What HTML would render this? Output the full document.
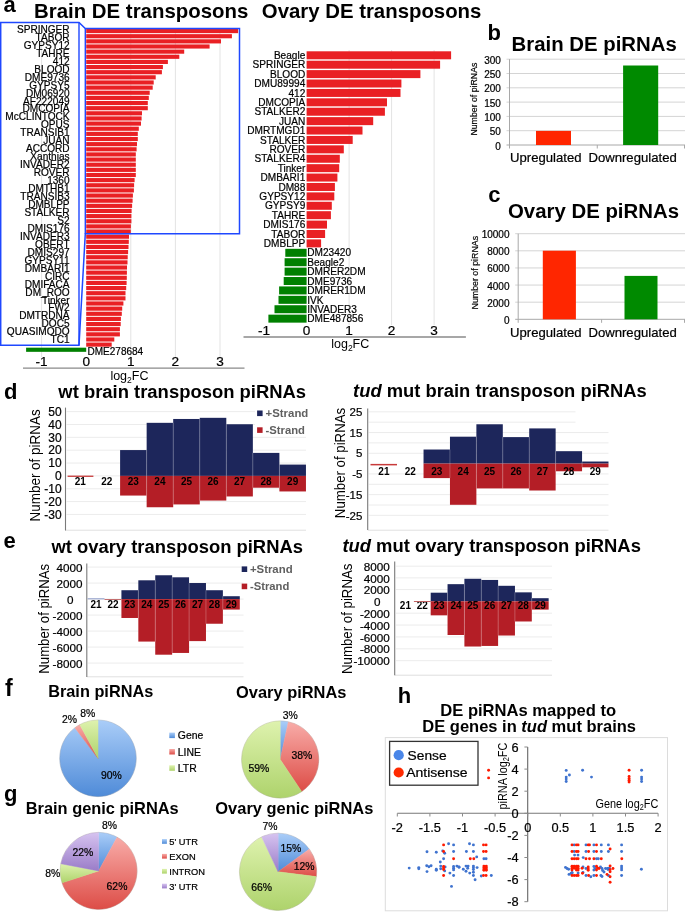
<!DOCTYPE html>
<html><head><meta charset="utf-8"><style>
html,body{margin:0;padding:0;background:#fff;}
svg{display:block;font-family:"Liberation Sans",sans-serif;filter:blur(0.3px);}
</style></head><body>
<svg width="685" height="912" viewBox="0 0 685 912" font-family="Liberation Sans, sans-serif">
<defs>
<linearGradient id="gB" x1="0" y1="0" x2="0" y2="1"><stop offset="0" stop-color="#aacdf8"/><stop offset="1" stop-color="#4f8bd8"/></linearGradient>
<linearGradient id="gR" x1="0" y1="0" x2="0" y2="1"><stop offset="0" stop-color="#f8aca8"/><stop offset="1" stop-color="#dd4d47"/></linearGradient>
<linearGradient id="gG" x1="0" y1="0" x2="0" y2="1"><stop offset="0" stop-color="#def2ae"/><stop offset="1" stop-color="#aed36c"/></linearGradient>
<linearGradient id="gP" x1="0" y1="0" x2="0" y2="1"><stop offset="0" stop-color="#d6c3f0"/><stop offset="1" stop-color="#9a7cc8"/></linearGradient>
</defs>
<text x="3.50" y="12.10" font-size="22" font-weight="bold" >a</text>
<text x="34.00" y="17.80" font-size="20.8" font-weight="bold" textLength="214.30" lengthAdjust="spacingAndGlyphs" >Brain DE transposons</text>
<text x="261.80" y="17.80" font-size="20.8" font-weight="bold" textLength="219.60" lengthAdjust="spacingAndGlyphs" >Ovary DE transposons</text>
<line x1="41.60" y1="28.00" x2="41.60" y2="357.00" stroke="#e3e3e3" stroke-width="1" />
<line x1="130.80" y1="28.00" x2="130.80" y2="357.00" stroke="#e3e3e3" stroke-width="1" />
<line x1="175.40" y1="28.00" x2="175.40" y2="357.00" stroke="#e3e3e3" stroke-width="1" />
<line x1="220.00" y1="28.00" x2="220.00" y2="357.00" stroke="#e3e3e3" stroke-width="1" />
<rect x="86.20" y="29.00" width="151.90" height="4.15" fill="#e92024" />
<rect x="86.20" y="34.14" width="145.70" height="4.15" fill="#e92024" />
<rect x="86.20" y="39.28" width="134.80" height="4.15" fill="#e92024" />
<rect x="86.20" y="44.42" width="123.40" height="4.15" fill="#e92024" />
<rect x="86.20" y="49.56" width="98.00" height="4.15" fill="#e92024" />
<rect x="86.20" y="54.70" width="93.10" height="4.15" fill="#e92024" />
<rect x="86.20" y="59.84" width="81.70" height="4.15" fill="#e92024" />
<rect x="86.20" y="64.98" width="76.70" height="4.15" fill="#e92024" />
<rect x="86.20" y="70.12" width="75.70" height="4.15" fill="#e92024" />
<rect x="86.20" y="75.26" width="69.50" height="4.15" fill="#e92024" />
<rect x="86.20" y="80.40" width="67.50" height="4.15" fill="#e92024" />
<rect x="86.20" y="85.54" width="66.50" height="4.15" fill="#e92024" />
<rect x="86.20" y="90.68" width="63.50" height="4.15" fill="#e92024" />
<rect x="86.20" y="95.82" width="62.60" height="4.15" fill="#e92024" />
<rect x="86.20" y="100.96" width="61.60" height="4.15" fill="#e92024" />
<rect x="86.20" y="106.10" width="61.60" height="4.15" fill="#e92024" />
<rect x="86.20" y="111.24" width="55.80" height="4.15" fill="#e92024" />
<rect x="86.20" y="116.38" width="55.40" height="4.15" fill="#e92024" />
<rect x="86.20" y="121.52" width="54.80" height="4.15" fill="#e92024" />
<rect x="86.20" y="126.66" width="52.60" height="4.15" fill="#e92024" />
<rect x="86.20" y="131.80" width="51.60" height="4.15" fill="#e92024" />
<rect x="86.20" y="136.94" width="51.60" height="4.15" fill="#e92024" />
<rect x="86.20" y="142.08" width="50.80" height="4.15" fill="#e92024" />
<rect x="86.20" y="147.22" width="50.40" height="4.15" fill="#e92024" />
<rect x="86.20" y="152.36" width="49.60" height="4.15" fill="#e92024" />
<rect x="86.20" y="157.50" width="49.60" height="4.15" fill="#e92024" />
<rect x="86.20" y="162.64" width="49.60" height="4.15" fill="#e92024" />
<rect x="86.20" y="167.78" width="49.60" height="4.15" fill="#e92024" />
<rect x="86.20" y="172.92" width="49.60" height="4.15" fill="#e92024" />
<rect x="86.20" y="178.06" width="48.40" height="4.15" fill="#e92024" />
<rect x="86.20" y="183.20" width="47.90" height="4.15" fill="#e92024" />
<rect x="86.20" y="188.34" width="47.70" height="4.15" fill="#e92024" />
<rect x="86.20" y="193.48" width="46.70" height="4.15" fill="#e92024" />
<rect x="86.20" y="198.62" width="46.40" height="4.15" fill="#e92024" />
<rect x="86.20" y="203.76" width="45.90" height="4.15" fill="#e92024" />
<rect x="86.20" y="208.90" width="45.40" height="4.15" fill="#e92024" />
<rect x="86.20" y="214.04" width="45.20" height="4.15" fill="#e92024" />
<rect x="86.20" y="219.18" width="45.20" height="4.15" fill="#e92024" />
<rect x="86.20" y="224.32" width="44.70" height="4.15" fill="#e92024" />
<rect x="86.20" y="229.46" width="44.60" height="4.15" fill="#e92024" />
<rect x="86.20" y="234.60" width="42.80" height="4.15" fill="#e92024" />
<rect x="86.20" y="239.74" width="42.60" height="4.15" fill="#e92024" />
<rect x="86.20" y="244.88" width="42.30" height="4.15" fill="#e92024" />
<rect x="86.20" y="250.02" width="41.90" height="4.15" fill="#e92024" />
<rect x="86.20" y="255.16" width="41.50" height="4.15" fill="#e92024" />
<rect x="86.20" y="260.30" width="41.30" height="4.15" fill="#e92024" />
<rect x="86.20" y="265.44" width="40.80" height="4.15" fill="#e92024" />
<rect x="86.20" y="270.58" width="40.70" height="4.15" fill="#e92024" />
<rect x="86.20" y="275.72" width="40.60" height="4.15" fill="#e92024" />
<rect x="86.20" y="280.86" width="40.40" height="4.15" fill="#e92024" />
<rect x="86.20" y="286.00" width="40.00" height="4.15" fill="#e92024" />
<rect x="86.20" y="291.14" width="39.30" height="4.15" fill="#e92024" />
<rect x="86.20" y="296.28" width="39.30" height="4.15" fill="#e92024" />
<rect x="86.20" y="301.42" width="37.20" height="4.15" fill="#e92024" />
<rect x="86.20" y="306.56" width="36.00" height="4.15" fill="#e92024" />
<rect x="86.20" y="311.70" width="35.60" height="4.15" fill="#e92024" />
<rect x="86.20" y="316.84" width="34.70" height="4.15" fill="#e92024" />
<rect x="86.20" y="321.98" width="34.50" height="4.15" fill="#e92024" />
<rect x="86.20" y="327.12" width="33.70" height="4.15" fill="#e92024" />
<rect x="86.20" y="332.26" width="33.70" height="4.15" fill="#e92024" />
<rect x="86.20" y="337.40" width="28.10" height="4.15" fill="#e92024" />
<rect x="86.20" y="342.54" width="25.50" height="4.15" fill="#e92024" />
<rect x="26.10" y="347.68" width="60.10" height="4.15" fill="#008000" />
<text x="87.50" y="354.70" font-size="10.6" textLength="55.70" lengthAdjust="spacingAndGlyphs" stroke="#000" stroke-width="0.22" >DME278684</text>
<line x1="23.00" y1="368.20" x2="244.50" y2="368.20" stroke="#8a8a8a" stroke-width="1.3" />
<text x="41.60" y="366.00" font-size="13.6" text-anchor="middle" stroke="#000" stroke-width="0.22" >-1</text>
<text x="86.20" y="366.00" font-size="13.6" text-anchor="middle" stroke="#000" stroke-width="0.22" >0</text>
<text x="130.80" y="366.00" font-size="13.6" text-anchor="middle" stroke="#000" stroke-width="0.22" >1</text>
<text x="175.40" y="366.00" font-size="13.6" text-anchor="middle" stroke="#000" stroke-width="0.22" >2</text>
<text x="220.00" y="366.00" font-size="13.6" text-anchor="middle" stroke="#000" stroke-width="0.22" >3</text>
<text x="110.4" y="380.3" font-size="12.5">log<tspan font-size="8.5" dy="2.5">2</tspan><tspan dy="-2.5">FC</tspan></text>
<g transform="translate(69.6,0) scale(0.935,1) translate(-69.6,0)">
<text x="69.60" y="32.90" font-size="10.8" text-anchor="end" stroke="#000" stroke-width="0.22" >SPRINGER</text>
<text x="69.60" y="40.86" font-size="10.8" text-anchor="end" stroke="#000" stroke-width="0.22" >TABOR</text>
<text x="69.60" y="48.82" font-size="10.8" text-anchor="end" stroke="#000" stroke-width="0.22" >GYPSY12</text>
<text x="69.60" y="56.78" font-size="10.8" text-anchor="end" stroke="#000" stroke-width="0.22" >TAHRE</text>
<text x="69.60" y="64.74" font-size="10.8" text-anchor="end" stroke="#000" stroke-width="0.22" >412</text>
<text x="69.60" y="72.70" font-size="10.8" text-anchor="end" stroke="#000" stroke-width="0.22" >BLOOD</text>
<text x="69.60" y="80.66" font-size="10.8" text-anchor="end" stroke="#000" stroke-width="0.22" >DME9736</text>
<text x="69.60" y="88.62" font-size="10.8" text-anchor="end" stroke="#000" stroke-width="0.22" >GYPSY5</text>
<text x="69.60" y="96.58" font-size="10.8" text-anchor="end" stroke="#000" stroke-width="0.22" >DM06920</text>
<text x="69.60" y="104.54" font-size="10.8" text-anchor="end" stroke="#000" stroke-width="0.22" >AF222049</text>
<text x="69.60" y="112.50" font-size="10.8" text-anchor="end" stroke="#000" stroke-width="0.22" >DMCOPIA</text>
<text x="69.60" y="120.46" font-size="10.8" text-anchor="end" stroke="#000" stroke-width="0.22" >McCLINTOCK</text>
<text x="69.60" y="128.42" font-size="10.8" text-anchor="end" stroke="#000" stroke-width="0.22" >OPUS</text>
<text x="69.60" y="136.38" font-size="10.8" text-anchor="end" stroke="#000" stroke-width="0.22" >TRANSIB1</text>
<text x="69.60" y="144.34" font-size="10.8" text-anchor="end" stroke="#000" stroke-width="0.22" >JUAN</text>
<text x="69.60" y="152.30" font-size="10.8" text-anchor="end" stroke="#000" stroke-width="0.22" >ACCORD</text>
<text x="69.60" y="160.26" font-size="10.8" text-anchor="end" stroke="#000" stroke-width="0.22" >Xanthias</text>
<text x="69.60" y="168.22" font-size="10.8" text-anchor="end" stroke="#000" stroke-width="0.22" >INVADER2</text>
<text x="69.60" y="176.18" font-size="10.8" text-anchor="end" stroke="#000" stroke-width="0.22" >ROVER</text>
<text x="69.60" y="184.14" font-size="10.8" text-anchor="end" stroke="#000" stroke-width="0.22" >1360</text>
<text x="69.60" y="192.10" font-size="10.8" text-anchor="end" stroke="#000" stroke-width="0.22" >DMTHB1</text>
<text x="69.60" y="200.06" font-size="10.8" text-anchor="end" stroke="#000" stroke-width="0.22" >TRANSIB3</text>
<text x="69.60" y="208.02" font-size="10.8" text-anchor="end" stroke="#000" stroke-width="0.22" >DMBLPP</text>
<text x="69.60" y="215.98" font-size="10.8" text-anchor="end" stroke="#000" stroke-width="0.22" >STALKER</text>
<text x="69.60" y="223.94" font-size="10.8" text-anchor="end" stroke="#000" stroke-width="0.22" >S2</text>
<text x="69.60" y="231.90" font-size="10.8" text-anchor="end" stroke="#000" stroke-width="0.22" >DMIS176</text>
<text x="69.60" y="239.86" font-size="10.8" text-anchor="end" stroke="#000" stroke-width="0.22" >INVADER3</text>
<text x="69.60" y="247.82" font-size="10.8" text-anchor="end" stroke="#000" stroke-width="0.22" >QBERT</text>
<text x="69.60" y="255.78" font-size="10.8" text-anchor="end" stroke="#000" stroke-width="0.22" >DMIS297</text>
<text x="69.60" y="263.74" font-size="10.8" text-anchor="end" stroke="#000" stroke-width="0.22" >GYPSY11</text>
<text x="69.60" y="271.70" font-size="10.8" text-anchor="end" stroke="#000" stroke-width="0.22" >DMBARI1</text>
<text x="69.60" y="279.66" font-size="10.8" text-anchor="end" stroke="#000" stroke-width="0.22" >CIRC</text>
<text x="69.60" y="287.62" font-size="10.8" text-anchor="end" stroke="#000" stroke-width="0.22" >DMIFACA</text>
<text x="69.60" y="295.58" font-size="10.8" text-anchor="end" stroke="#000" stroke-width="0.22" >DM_ROO</text>
<text x="69.60" y="303.54" font-size="10.8" text-anchor="end" stroke="#000" stroke-width="0.22" >Tinker</text>
<text x="69.60" y="311.50" font-size="10.8" text-anchor="end" stroke="#000" stroke-width="0.22" >FW2</text>
<text x="69.60" y="319.46" font-size="10.8" text-anchor="end" stroke="#000" stroke-width="0.22" >DMTRDNA</text>
<text x="69.60" y="327.42" font-size="10.8" text-anchor="end" stroke="#000" stroke-width="0.22" >DOC5</text>
<text x="69.60" y="335.38" font-size="10.8" text-anchor="end" stroke="#000" stroke-width="0.22" >QUASIMODO</text>
<text x="69.60" y="343.34" font-size="10.8" text-anchor="end" stroke="#000" stroke-width="0.22" >TC1</text>
</g>
<path d="M0.7,345.2 L0.7,22.4 L79,22.4 L85.3,28.6 L239.5,28.6 L239.5,233.8 L85.3,233.8 L79,345.2 Z" fill="none" stroke="#1f48ff" stroke-width="1.5"/>
<line x1="79.00" y1="22.40" x2="79.00" y2="345.20" stroke="#1f48ff" stroke-width="1.4" />
<line x1="85.30" y1="28.60" x2="85.30" y2="233.80" stroke="#1f48ff" stroke-width="1.4" />
<line x1="349.10" y1="50.00" x2="349.10" y2="325.00" stroke="#e3e3e3" stroke-width="1" />
<line x1="391.60" y1="50.00" x2="391.60" y2="325.00" stroke="#e3e3e3" stroke-width="1" />
<line x1="434.10" y1="50.00" x2="434.10" y2="325.00" stroke="#e3e3e3" stroke-width="1" />
<rect x="306.60" y="51.30" width="144.50" height="8.00" fill="#e92024" />
<rect x="306.60" y="60.70" width="133.50" height="8.00" fill="#e92024" />
<rect x="306.60" y="70.11" width="113.80" height="8.00" fill="#e92024" />
<rect x="306.60" y="79.51" width="94.80" height="8.00" fill="#e92024" />
<rect x="306.60" y="88.92" width="93.90" height="8.00" fill="#e92024" />
<rect x="306.60" y="98.32" width="80.40" height="8.00" fill="#e92024" />
<rect x="306.60" y="107.73" width="78.30" height="8.00" fill="#e92024" />
<rect x="306.60" y="117.13" width="66.60" height="8.00" fill="#e92024" />
<rect x="306.60" y="126.54" width="55.90" height="8.00" fill="#e92024" />
<rect x="306.60" y="135.94" width="46.10" height="8.00" fill="#e92024" />
<rect x="306.60" y="145.35" width="37.20" height="8.00" fill="#e92024" />
<rect x="306.60" y="154.75" width="33.20" height="8.00" fill="#e92024" />
<rect x="306.60" y="164.16" width="32.60" height="8.00" fill="#e92024" />
<rect x="306.60" y="173.56" width="30.80" height="8.00" fill="#e92024" />
<rect x="306.60" y="182.97" width="28.30" height="8.00" fill="#e92024" />
<rect x="306.60" y="192.38" width="27.70" height="8.00" fill="#e92024" />
<rect x="306.60" y="201.78" width="25.20" height="8.00" fill="#e92024" />
<rect x="306.60" y="211.19" width="24.30" height="8.00" fill="#e92024" />
<rect x="306.60" y="220.59" width="20.40" height="8.00" fill="#e92024" />
<rect x="306.60" y="230.00" width="18.50" height="8.00" fill="#e92024" />
<rect x="306.60" y="239.40" width="14.50" height="8.00" fill="#e92024" />
<rect x="285.30" y="248.81" width="21.30" height="8.00" fill="#008000" />
<rect x="284.60" y="258.21" width="22.00" height="8.00" fill="#008000" />
<rect x="284.60" y="267.62" width="22.00" height="8.00" fill="#008000" />
<rect x="283.70" y="277.02" width="22.90" height="8.00" fill="#008000" />
<rect x="279.10" y="286.42" width="27.50" height="8.00" fill="#008000" />
<rect x="278.50" y="295.83" width="28.10" height="8.00" fill="#008000" />
<rect x="274.50" y="305.23" width="32.10" height="8.00" fill="#008000" />
<rect x="268.40" y="314.64" width="38.20" height="8.00" fill="#008000" />
<g transform="translate(305.3,0) scale(0.935,1) translate(-305.3,0)">
<text x="305.30" y="59.00" font-size="10.8" text-anchor="end" stroke="#000" stroke-width="0.22" >Beagle</text>
<text x="305.30" y="68.41" font-size="10.8" text-anchor="end" stroke="#000" stroke-width="0.22" >SPRINGER</text>
<text x="305.30" y="77.81" font-size="10.8" text-anchor="end" stroke="#000" stroke-width="0.22" >BLOOD</text>
<text x="305.30" y="87.21" font-size="10.8" text-anchor="end" stroke="#000" stroke-width="0.22" >DMU89994</text>
<text x="305.30" y="96.62" font-size="10.8" text-anchor="end" stroke="#000" stroke-width="0.22" >412</text>
<text x="305.30" y="106.02" font-size="10.8" text-anchor="end" stroke="#000" stroke-width="0.22" >DMCOPIA</text>
<text x="305.30" y="115.43" font-size="10.8" text-anchor="end" stroke="#000" stroke-width="0.22" >STALKER2</text>
<text x="305.30" y="124.83" font-size="10.8" text-anchor="end" stroke="#000" stroke-width="0.22" >JUAN</text>
<text x="305.30" y="134.24" font-size="10.8" text-anchor="end" stroke="#000" stroke-width="0.22" >DMRTMGD1</text>
<text x="305.30" y="143.64" font-size="10.8" text-anchor="end" stroke="#000" stroke-width="0.22" >STALKER</text>
<text x="305.30" y="153.05" font-size="10.8" text-anchor="end" stroke="#000" stroke-width="0.22" >ROVER</text>
<text x="305.30" y="162.45" font-size="10.8" text-anchor="end" stroke="#000" stroke-width="0.22" >STALKER4</text>
<text x="305.30" y="171.86" font-size="10.8" text-anchor="end" stroke="#000" stroke-width="0.22" >Tinker</text>
<text x="305.30" y="181.26" font-size="10.8" text-anchor="end" stroke="#000" stroke-width="0.22" >DMBARI1</text>
<text x="305.30" y="190.67" font-size="10.8" text-anchor="end" stroke="#000" stroke-width="0.22" >DM88</text>
<text x="305.30" y="200.07" font-size="10.8" text-anchor="end" stroke="#000" stroke-width="0.22" >GYPSY12</text>
<text x="305.30" y="209.48" font-size="10.8" text-anchor="end" stroke="#000" stroke-width="0.22" >GYPSY9</text>
<text x="305.30" y="218.88" font-size="10.8" text-anchor="end" stroke="#000" stroke-width="0.22" >TAHRE</text>
<text x="305.30" y="228.29" font-size="10.8" text-anchor="end" stroke="#000" stroke-width="0.22" >DMIS176</text>
<text x="305.30" y="237.69" font-size="10.8" text-anchor="end" stroke="#000" stroke-width="0.22" >TABOR</text>
<text x="305.30" y="247.10" font-size="10.8" text-anchor="end" stroke="#000" stroke-width="0.22" >DMBLPP</text>
</g>
<g transform="translate(307.3,0) scale(0.935,1) translate(-307.3,0)">
<text x="307.30" y="256.50" font-size="10.8" stroke="#000" stroke-width="0.22" >DM23420</text>
<text x="307.30" y="265.91" font-size="10.8" stroke="#000" stroke-width="0.22" >Beagle2</text>
<text x="307.30" y="275.31" font-size="10.8" stroke="#000" stroke-width="0.22" >DMRER2DM</text>
<text x="307.30" y="284.72" font-size="10.8" stroke="#000" stroke-width="0.22" >DME9736</text>
<text x="307.30" y="294.12" font-size="10.8" stroke="#000" stroke-width="0.22" >DMRER1DM</text>
<text x="307.30" y="303.53" font-size="10.8" stroke="#000" stroke-width="0.22" >IVK</text>
<text x="307.30" y="312.93" font-size="10.8" stroke="#000" stroke-width="0.22" >INVADER3</text>
<text x="307.30" y="322.34" font-size="10.8" stroke="#000" stroke-width="0.22" >DME487856</text>
</g>
<line x1="243.50" y1="337.00" x2="465.90" y2="337.00" stroke="#8a8a8a" stroke-width="1.3" />
<text x="264.10" y="334.60" font-size="13.6" text-anchor="middle" stroke="#000" stroke-width="0.22" >-1</text>
<text x="306.60" y="334.60" font-size="13.6" text-anchor="middle" stroke="#000" stroke-width="0.22" >0</text>
<text x="349.10" y="334.60" font-size="13.6" text-anchor="middle" stroke="#000" stroke-width="0.22" >1</text>
<text x="391.60" y="334.60" font-size="13.6" text-anchor="middle" stroke="#000" stroke-width="0.22" >2</text>
<text x="434.10" y="334.60" font-size="13.6" text-anchor="middle" stroke="#000" stroke-width="0.22" >3</text>
<text x="331.2" y="348" font-size="12.5">log<tspan font-size="8.5" dy="2.5">2</tspan><tspan dy="-2.5">FC</tspan></text>
<text x="487.60" y="39.80" font-size="22" font-weight="bold" >b</text>
<text x="511.50" y="50.80" font-size="20" font-weight="bold" textLength="165.30" lengthAdjust="spacingAndGlyphs" >Brain DE piRNAs</text>
<line x1="506.50" y1="59.20" x2="685.00" y2="59.20" stroke="#d4d4d4" stroke-width="1" />
<text x="500.90" y="63.70" font-size="10" text-anchor="end" stroke="#000" stroke-width="0.22" >300</text>
<line x1="506.50" y1="73.50" x2="685.00" y2="73.50" stroke="#d4d4d4" stroke-width="1" />
<text x="500.90" y="78.00" font-size="10" text-anchor="end" stroke="#000" stroke-width="0.22" >250</text>
<line x1="506.50" y1="87.80" x2="685.00" y2="87.80" stroke="#d4d4d4" stroke-width="1" />
<text x="500.90" y="92.30" font-size="10" text-anchor="end" stroke="#000" stroke-width="0.22" >200</text>
<line x1="506.50" y1="102.10" x2="685.00" y2="102.10" stroke="#d4d4d4" stroke-width="1" />
<text x="500.90" y="106.60" font-size="10" text-anchor="end" stroke="#000" stroke-width="0.22" >150</text>
<line x1="506.50" y1="116.40" x2="685.00" y2="116.40" stroke="#d4d4d4" stroke-width="1" />
<text x="500.90" y="120.90" font-size="10" text-anchor="end" stroke="#000" stroke-width="0.22" >100</text>
<line x1="506.50" y1="130.70" x2="685.00" y2="130.70" stroke="#d4d4d4" stroke-width="1" />
<text x="500.90" y="135.20" font-size="10" text-anchor="end" stroke="#000" stroke-width="0.22" >50</text>
<text x="500.90" y="149.50" font-size="10" text-anchor="end" stroke="#000" stroke-width="0.22" >0</text>
<line x1="509.50" y1="59.20" x2="509.50" y2="145.00" stroke="#a8a8a8" stroke-width="1" />
<line x1="506.50" y1="145.00" x2="685.00" y2="145.00" stroke="#a8a8a8" stroke-width="1" />
<line x1="509.50" y1="145.00" x2="509.50" y2="148.50" stroke="#a8a8a8" stroke-width="1" />
<line x1="597.25" y1="145.00" x2="597.25" y2="148.50" stroke="#a8a8a8" stroke-width="1" />
<line x1="684.50" y1="145.00" x2="684.50" y2="148.50" stroke="#a8a8a8" stroke-width="1" />
<rect x="536.00" y="130.90" width="35.00" height="14.10" fill="#ff2600" />
<rect x="623.10" y="65.50" width="35.10" height="79.50" fill="#008a00" />
<text transform="translate(476.5,99.1) rotate(-90)" x="0" y="0" font-size="9.8" text-anchor="middle" textLength="73" lengthAdjust="spacingAndGlyphs" stroke="#000" stroke-width="0.2">Number of piRNAs</text>
<text x="545.80" y="162.00" font-size="12.9" text-anchor="middle" textLength="71.50" lengthAdjust="spacingAndGlyphs" stroke="#000" stroke-width="0.22" >Upregulated</text>
<text x="632.60" y="162.00" font-size="12.9" text-anchor="middle" textLength="88.40" lengthAdjust="spacingAndGlyphs" stroke="#000" stroke-width="0.22" >Downregulated</text>
<text x="488.30" y="201.50" font-size="22" font-weight="bold" >c</text>
<text x="508.00" y="217.60" font-size="20" font-weight="bold" textLength="171.00" lengthAdjust="spacingAndGlyphs" >Ovary DE piRNAs</text>
<line x1="515.20" y1="233.70" x2="685.00" y2="233.70" stroke="#d4d4d4" stroke-width="1" />
<text x="509.50" y="238.20" font-size="10" text-anchor="end" stroke="#000" stroke-width="0.22" >10000</text>
<line x1="515.20" y1="250.82" x2="685.00" y2="250.82" stroke="#d4d4d4" stroke-width="1" />
<text x="509.50" y="255.32" font-size="10" text-anchor="end" stroke="#000" stroke-width="0.22" >8000</text>
<line x1="515.20" y1="267.94" x2="685.00" y2="267.94" stroke="#d4d4d4" stroke-width="1" />
<text x="509.50" y="272.44" font-size="10" text-anchor="end" stroke="#000" stroke-width="0.22" >6000</text>
<line x1="515.20" y1="285.06" x2="685.00" y2="285.06" stroke="#d4d4d4" stroke-width="1" />
<text x="509.50" y="289.56" font-size="10" text-anchor="end" stroke="#000" stroke-width="0.22" >4000</text>
<line x1="515.20" y1="302.18" x2="685.00" y2="302.18" stroke="#d4d4d4" stroke-width="1" />
<text x="509.50" y="306.68" font-size="10" text-anchor="end" stroke="#000" stroke-width="0.22" >2000</text>
<text x="509.50" y="323.80" font-size="10" text-anchor="end" stroke="#000" stroke-width="0.22" >0</text>
<line x1="518.20" y1="233.70" x2="518.20" y2="319.30" stroke="#a8a8a8" stroke-width="1" />
<line x1="515.20" y1="319.30" x2="685.00" y2="319.30" stroke="#a8a8a8" stroke-width="1" />
<line x1="518.20" y1="319.30" x2="518.20" y2="322.80" stroke="#a8a8a8" stroke-width="1" />
<line x1="601.60" y1="319.30" x2="601.60" y2="322.80" stroke="#a8a8a8" stroke-width="1" />
<line x1="684.50" y1="319.30" x2="684.50" y2="322.80" stroke="#a8a8a8" stroke-width="1" />
<rect x="542.80" y="250.70" width="33.10" height="68.60" fill="#ff2600" />
<rect x="624.50" y="275.90" width="33.00" height="43.40" fill="#008a00" />
<text transform="translate(477.8,272.7) rotate(-90)" x="0" y="0" font-size="9.8" text-anchor="middle" textLength="73.5" lengthAdjust="spacingAndGlyphs" stroke="#000" stroke-width="0.2">Number of piRNAs</text>
<text x="545.80" y="336.60" font-size="12.9" text-anchor="middle" textLength="71.50" lengthAdjust="spacingAndGlyphs" stroke="#000" stroke-width="0.22" >Upregulated</text>
<text x="632.60" y="336.60" font-size="12.9" text-anchor="middle" textLength="88.40" lengthAdjust="spacingAndGlyphs" stroke="#000" stroke-width="0.22" >Downregulated</text>
<text x="4.00" y="398.90" font-size="22" font-weight="bold" >d</text>
<text x="58.30" y="398.30" font-size="18.3" font-weight="bold" textLength="247.80" lengthAdjust="spacingAndGlyphs" >wt brain transposon piRNAs</text>
<rect x="255.00" y="405.00" width="56.00" height="33.00" fill="#fff" />
<line x1="66.50" y1="411.65" x2="255.00" y2="411.65" stroke="#ececec" stroke-width="1" />
<line x1="66.50" y1="424.50" x2="255.00" y2="424.50" stroke="#ececec" stroke-width="1" />
<line x1="66.50" y1="437.35" x2="306.00" y2="437.35" stroke="#ececec" stroke-width="1" />
<line x1="66.50" y1="450.20" x2="306.00" y2="450.20" stroke="#ececec" stroke-width="1" />
<line x1="66.50" y1="463.05" x2="306.00" y2="463.05" stroke="#ececec" stroke-width="1" />
<line x1="66.50" y1="475.90" x2="306.00" y2="475.90" stroke="#ececec" stroke-width="1" />
<line x1="66.50" y1="488.75" x2="306.00" y2="488.75" stroke="#ececec" stroke-width="1" />
<line x1="66.50" y1="501.60" x2="306.00" y2="501.60" stroke="#ececec" stroke-width="1" />
<line x1="66.50" y1="514.45" x2="306.00" y2="514.45" stroke="#ececec" stroke-width="1" />
<line x1="65.50" y1="530.20" x2="306.00" y2="530.20" stroke="#e0e0e0" stroke-width="1" />
<text x="61.60" y="415.85" font-size="12" text-anchor="end" stroke="#000" stroke-width="0.22" >50</text>
<text x="61.60" y="428.70" font-size="12" text-anchor="end" stroke="#000" stroke-width="0.22" >40</text>
<text x="61.60" y="441.55" font-size="12" text-anchor="end" stroke="#000" stroke-width="0.22" >30</text>
<text x="61.60" y="454.40" font-size="12" text-anchor="end" stroke="#000" stroke-width="0.22" >20</text>
<text x="61.60" y="467.25" font-size="12" text-anchor="end" stroke="#000" stroke-width="0.22" >10</text>
<text x="61.60" y="480.10" font-size="12" text-anchor="end" stroke="#000" stroke-width="0.22" >0</text>
<text x="61.60" y="492.95" font-size="12" text-anchor="end" stroke="#000" stroke-width="0.22" >-10</text>
<text x="61.60" y="505.80" font-size="12" text-anchor="end" stroke="#000" stroke-width="0.22" >-20</text>
<text x="61.60" y="518.65" font-size="12" text-anchor="end" stroke="#000" stroke-width="0.22" >-30</text>
<line x1="65.50" y1="407.60" x2="65.50" y2="530.50" stroke="#7a7a7a" stroke-width="1.1" />
<rect x="120.10" y="450.07" width="26.55" height="25.83" fill="#1d265b" />
<rect x="120.10" y="475.90" width="26.55" height="19.66" fill="#b41e26" />
<rect x="146.65" y="422.83" width="26.55" height="53.07" fill="#1d265b" />
<rect x="146.65" y="475.90" width="26.55" height="31.35" fill="#b41e26" />
<rect x="173.20" y="418.97" width="26.55" height="56.93" fill="#1d265b" />
<rect x="173.20" y="475.90" width="26.55" height="28.53" fill="#b41e26" />
<rect x="199.75" y="417.82" width="26.55" height="58.08" fill="#1d265b" />
<rect x="199.75" y="475.90" width="26.55" height="24.67" fill="#b41e26" />
<rect x="226.30" y="424.24" width="26.55" height="51.66" fill="#1d265b" />
<rect x="226.30" y="475.90" width="26.55" height="20.56" fill="#b41e26" />
<rect x="252.85" y="452.90" width="26.55" height="23.00" fill="#1d265b" />
<rect x="252.85" y="475.90" width="26.55" height="11.82" fill="#b41e26" />
<rect x="279.40" y="464.59" width="26.55" height="11.31" fill="#1d265b" />
<rect x="279.40" y="475.90" width="26.55" height="15.55" fill="#b41e26" />
<line x1="120.10" y1="475.90" x2="120.10" y2="475.90" stroke="rgba(255,255,255,0.35)" stroke-width="0.6" />
<line x1="146.65" y1="450.07" x2="146.65" y2="495.56" stroke="rgba(255,255,255,0.35)" stroke-width="0.6" />
<line x1="173.20" y1="422.83" x2="173.20" y2="504.43" stroke="rgba(255,255,255,0.35)" stroke-width="0.6" />
<line x1="199.75" y1="418.97" x2="199.75" y2="500.57" stroke="rgba(255,255,255,0.35)" stroke-width="0.6" />
<line x1="226.30" y1="424.24" x2="226.30" y2="496.46" stroke="rgba(255,255,255,0.35)" stroke-width="0.6" />
<line x1="252.85" y1="452.90" x2="252.85" y2="487.72" stroke="rgba(255,255,255,0.35)" stroke-width="0.6" />
<line x1="279.40" y1="464.59" x2="279.40" y2="487.72" stroke="rgba(255,255,255,0.35)" stroke-width="0.6" />
<text x="80.28" y="484.80" font-size="10.0" text-anchor="middle" font-weight="bold" >21</text>
<text x="106.83" y="484.80" font-size="10.0" text-anchor="middle" font-weight="bold" >22</text>
<text x="133.38" y="484.80" font-size="10.0" text-anchor="middle" font-weight="bold" >23</text>
<text x="159.93" y="484.80" font-size="10.0" text-anchor="middle" font-weight="bold" >24</text>
<text x="186.48" y="484.80" font-size="10.0" text-anchor="middle" font-weight="bold" >25</text>
<text x="213.03" y="484.80" font-size="10.0" text-anchor="middle" font-weight="bold" >26</text>
<text x="239.58" y="484.80" font-size="10.0" text-anchor="middle" font-weight="bold" >27</text>
<text x="266.12" y="484.80" font-size="10.0" text-anchor="middle" font-weight="bold" >28</text>
<text x="292.68" y="484.80" font-size="10.0" text-anchor="middle" font-weight="bold" >29</text>
<rect x="67.60" y="475.60" width="25.80" height="1.30" fill="#c83a3a" />
<rect x="257.10" y="410.50" width="5.50" height="5.60" fill="#1d265b" />
<rect x="257.10" y="427.30" width="5.50" height="5.60" fill="#b41e26" />
<text x="265.60" y="416.80" font-size="11" font-weight="bold" fill="#606060" textLength="42.70" lengthAdjust="spacingAndGlyphs" >+Strand</text>
<text x="265.60" y="433.90" font-size="11" font-weight="bold" fill="#606060" textLength="39.40" lengthAdjust="spacingAndGlyphs" >-Strand</text>
<text transform="translate(40.3,465.4) rotate(-90)" x="0" y="0" font-size="14.6" text-anchor="middle" textLength="112" lengthAdjust="spacingAndGlyphs">Number of piRNAs</text>
<text x="353.1" y="397.3" font-size="18.3" font-weight="bold" textLength="293.6" lengthAdjust="spacingAndGlyphs"><tspan font-style="italic">tud</tspan> mut brain transposon piRNAs</text>
<line x1="368.70" y1="411.85" x2="575.50" y2="411.85" stroke="#ececec" stroke-width="1" />
<line x1="368.70" y1="422.20" x2="575.50" y2="422.20" stroke="#ececec" stroke-width="1" />
<line x1="368.70" y1="432.55" x2="608.50" y2="432.55" stroke="#ececec" stroke-width="1" />
<line x1="368.70" y1="442.90" x2="608.50" y2="442.90" stroke="#ececec" stroke-width="1" />
<line x1="368.70" y1="453.25" x2="608.50" y2="453.25" stroke="#ececec" stroke-width="1" />
<line x1="368.70" y1="473.95" x2="608.50" y2="473.95" stroke="#ececec" stroke-width="1" />
<line x1="368.70" y1="484.30" x2="608.50" y2="484.30" stroke="#ececec" stroke-width="1" />
<line x1="368.70" y1="494.65" x2="608.50" y2="494.65" stroke="#ececec" stroke-width="1" />
<line x1="368.70" y1="505.00" x2="608.50" y2="505.00" stroke="#ececec" stroke-width="1" />
<line x1="368.70" y1="515.35" x2="608.50" y2="515.35" stroke="#ececec" stroke-width="1" />
<line x1="367.70" y1="530.20" x2="608.50" y2="530.20" stroke="#e0e0e0" stroke-width="1" />
<text x="362.40" y="416.05" font-size="11.5" text-anchor="end" stroke="#000" stroke-width="0.22" >25</text>
<text x="362.40" y="436.75" font-size="11.5" text-anchor="end" stroke="#000" stroke-width="0.22" >15</text>
<text x="362.40" y="457.45" font-size="11.5" text-anchor="end" stroke="#000" stroke-width="0.22" >5</text>
<text x="362.40" y="478.15" font-size="11.5" text-anchor="end" stroke="#000" stroke-width="0.22" >-5</text>
<text x="362.40" y="498.85" font-size="11.5" text-anchor="end" stroke="#000" stroke-width="0.22" >-15</text>
<text x="362.40" y="519.55" font-size="11.5" text-anchor="end" stroke="#000" stroke-width="0.22" >-25</text>
<line x1="367.70" y1="408.50" x2="367.70" y2="530.00" stroke="#7a7a7a" stroke-width="1.1" />
<rect x="423.54" y="449.52" width="26.42" height="14.08" fill="#1d265b" />
<rect x="423.54" y="463.60" width="26.42" height="14.49" fill="#b41e26" />
<rect x="449.96" y="436.69" width="26.42" height="26.91" fill="#1d265b" />
<rect x="449.96" y="463.60" width="26.42" height="41.19" fill="#b41e26" />
<rect x="476.38" y="424.27" width="26.42" height="39.33" fill="#1d265b" />
<rect x="476.38" y="463.60" width="26.42" height="24.84" fill="#b41e26" />
<rect x="502.80" y="437.10" width="26.42" height="26.50" fill="#1d265b" />
<rect x="502.80" y="463.60" width="26.42" height="24.84" fill="#b41e26" />
<rect x="529.22" y="428.41" width="26.42" height="35.19" fill="#1d265b" />
<rect x="529.22" y="463.60" width="26.42" height="26.91" fill="#b41e26" />
<rect x="555.64" y="451.18" width="26.42" height="12.42" fill="#1d265b" />
<rect x="555.64" y="463.60" width="26.42" height="7.66" fill="#b41e26" />
<rect x="582.06" y="461.53" width="26.42" height="2.07" fill="#1d265b" />
<rect x="582.06" y="463.60" width="26.42" height="3.73" fill="#b41e26" />
<line x1="423.54" y1="463.60" x2="423.54" y2="463.60" stroke="rgba(255,255,255,0.35)" stroke-width="0.6" />
<line x1="449.96" y1="449.52" x2="449.96" y2="478.09" stroke="rgba(255,255,255,0.35)" stroke-width="0.6" />
<line x1="476.38" y1="436.69" x2="476.38" y2="488.44" stroke="rgba(255,255,255,0.35)" stroke-width="0.6" />
<line x1="502.80" y1="437.10" x2="502.80" y2="488.44" stroke="rgba(255,255,255,0.35)" stroke-width="0.6" />
<line x1="529.22" y1="437.10" x2="529.22" y2="488.44" stroke="rgba(255,255,255,0.35)" stroke-width="0.6" />
<line x1="555.64" y1="451.18" x2="555.64" y2="471.26" stroke="rgba(255,255,255,0.35)" stroke-width="0.6" />
<line x1="582.06" y1="461.53" x2="582.06" y2="467.33" stroke="rgba(255,255,255,0.35)" stroke-width="0.6" />
<text x="383.91" y="474.50" font-size="10.0" text-anchor="middle" font-weight="bold" >21</text>
<text x="410.33" y="474.50" font-size="10.0" text-anchor="middle" font-weight="bold" >22</text>
<text x="436.75" y="474.50" font-size="10.0" text-anchor="middle" font-weight="bold" >23</text>
<text x="463.17" y="474.50" font-size="10.0" text-anchor="middle" font-weight="bold" >24</text>
<text x="489.59" y="474.50" font-size="10.0" text-anchor="middle" font-weight="bold" >25</text>
<text x="516.01" y="474.50" font-size="10.0" text-anchor="middle" font-weight="bold" >26</text>
<text x="542.43" y="474.50" font-size="10.0" text-anchor="middle" font-weight="bold" >27</text>
<text x="568.85" y="474.50" font-size="10.0" text-anchor="middle" font-weight="bold" >28</text>
<text x="595.27" y="474.50" font-size="10.0" text-anchor="middle" font-weight="bold" >29</text>
<rect x="370.50" y="463.90" width="26.50" height="1.50" fill="#c83a3a" />
<text transform="translate(345.0,463) rotate(-90)" x="0" y="0" font-size="14.4" text-anchor="middle" textLength="110.3" lengthAdjust="spacingAndGlyphs">Number of piRNAs</text>
<text x="3.50" y="548.20" font-size="22" font-weight="bold" >e</text>
<text x="51.40" y="553.10" font-size="18.3" font-weight="bold" textLength="251.60" lengthAdjust="spacingAndGlyphs" >wt ovary transposon piRNAs</text>
<line x1="87.80" y1="567.10" x2="243.50" y2="567.10" stroke="#ececec" stroke-width="1" />
<line x1="87.80" y1="583.10" x2="243.50" y2="583.10" stroke="#ececec" stroke-width="1" />
<line x1="87.80" y1="599.10" x2="243.50" y2="599.10" stroke="#ececec" stroke-width="1" />
<line x1="87.80" y1="615.10" x2="243.50" y2="615.10" stroke="#ececec" stroke-width="1" />
<line x1="87.80" y1="631.10" x2="243.50" y2="631.10" stroke="#ececec" stroke-width="1" />
<line x1="87.80" y1="647.10" x2="243.50" y2="647.10" stroke="#ececec" stroke-width="1" />
<line x1="87.80" y1="663.10" x2="243.50" y2="663.10" stroke="#ececec" stroke-width="1" />
<line x1="86.80" y1="676.80" x2="243.50" y2="676.80" stroke="#e0e0e0" stroke-width="1" />
<text x="82.40" y="571.70" font-size="11.7" text-anchor="end" stroke="#000" stroke-width="0.22" >4000</text>
<text x="82.40" y="587.70" font-size="11.7" text-anchor="end" stroke="#000" stroke-width="0.22" >2000</text>
<text x="73.60" y="603.70" font-size="11.7" text-anchor="end" stroke="#000" stroke-width="0.22" >0</text>
<text x="82.40" y="619.70" font-size="11.7" text-anchor="end" stroke="#000" stroke-width="0.22" >-2000</text>
<text x="82.40" y="635.70" font-size="11.7" text-anchor="end" stroke="#000" stroke-width="0.22" >-4000</text>
<text x="82.40" y="651.70" font-size="11.7" text-anchor="end" stroke="#000" stroke-width="0.22" >-6000</text>
<text x="82.40" y="667.70" font-size="11.7" text-anchor="end" stroke="#000" stroke-width="0.22" >-8000</text>
<line x1="86.80" y1="563.40" x2="86.80" y2="677.00" stroke="#7a7a7a" stroke-width="1.1" />
<rect x="121.42" y="590.22" width="16.91" height="8.88" fill="#1d265b" />
<rect x="121.42" y="599.10" width="16.91" height="18.88" fill="#b41e26" />
<rect x="138.33" y="580.30" width="16.91" height="18.80" fill="#1d265b" />
<rect x="138.33" y="599.10" width="16.91" height="42.48" fill="#b41e26" />
<rect x="155.24" y="575.26" width="16.91" height="23.84" fill="#1d265b" />
<rect x="155.24" y="599.10" width="16.91" height="55.60" fill="#b41e26" />
<rect x="172.15" y="577.30" width="16.91" height="21.80" fill="#1d265b" />
<rect x="172.15" y="599.10" width="16.91" height="53.84" fill="#b41e26" />
<rect x="189.06" y="583.02" width="16.91" height="16.08" fill="#1d265b" />
<rect x="189.06" y="599.10" width="16.91" height="42.00" fill="#b41e26" />
<rect x="205.97" y="590.22" width="16.91" height="8.88" fill="#1d265b" />
<rect x="205.97" y="599.10" width="16.91" height="24.64" fill="#b41e26" />
<rect x="222.88" y="596.22" width="16.91" height="2.88" fill="#1d265b" />
<rect x="222.88" y="599.10" width="16.91" height="10.48" fill="#b41e26" />
<line x1="121.42" y1="599.10" x2="121.42" y2="599.10" stroke="rgba(255,255,255,0.35)" stroke-width="0.6" />
<line x1="138.33" y1="590.22" x2="138.33" y2="617.98" stroke="rgba(255,255,255,0.35)" stroke-width="0.6" />
<line x1="155.24" y1="580.30" x2="155.24" y2="641.58" stroke="rgba(255,255,255,0.35)" stroke-width="0.6" />
<line x1="172.15" y1="577.30" x2="172.15" y2="652.94" stroke="rgba(255,255,255,0.35)" stroke-width="0.6" />
<line x1="189.06" y1="583.02" x2="189.06" y2="641.10" stroke="rgba(255,255,255,0.35)" stroke-width="0.6" />
<line x1="205.97" y1="590.22" x2="205.97" y2="623.74" stroke="rgba(255,255,255,0.35)" stroke-width="0.6" />
<line x1="222.88" y1="596.22" x2="222.88" y2="609.58" stroke="rgba(255,255,255,0.35)" stroke-width="0.6" />
<text x="96.05" y="608.30" font-size="10.0" text-anchor="middle" font-weight="bold" >21</text>
<text x="112.97" y="608.30" font-size="10.0" text-anchor="middle" font-weight="bold" >22</text>
<text x="129.88" y="608.30" font-size="10.0" text-anchor="middle" font-weight="bold" >23</text>
<text x="146.78" y="608.30" font-size="10.0" text-anchor="middle" font-weight="bold" >24</text>
<text x="163.69" y="608.30" font-size="10.0" text-anchor="middle" font-weight="bold" >25</text>
<text x="180.60" y="608.30" font-size="10.0" text-anchor="middle" font-weight="bold" >26</text>
<text x="197.51" y="608.30" font-size="10.0" text-anchor="middle" font-weight="bold" >27</text>
<text x="214.43" y="608.30" font-size="10.0" text-anchor="middle" font-weight="bold" >28</text>
<text x="231.34" y="608.30" font-size="10.0" text-anchor="middle" font-weight="bold" >29</text>
<rect x="87.60" y="598.30" width="16.90" height="1.00" fill="#8c9ac8" />
<rect x="104.50" y="599.10" width="16.90" height="0.90" fill="#c06060" />
<rect x="241.70" y="566.40" width="5.50" height="5.60" fill="#1d265b" />
<rect x="241.70" y="583.60" width="5.50" height="5.60" fill="#b41e26" />
<text x="249.90" y="572.80" font-size="11" font-weight="bold" fill="#606060" textLength="42.70" lengthAdjust="spacingAndGlyphs" >+Strand</text>
<text x="249.90" y="589.70" font-size="11" font-weight="bold" fill="#606060" textLength="39.40" lengthAdjust="spacingAndGlyphs" >-Strand</text>
<text transform="translate(48.8,618.8) rotate(-90)" x="0" y="0" font-size="14.6" text-anchor="middle" textLength="109.8" lengthAdjust="spacingAndGlyphs">Number of piRNAs</text>
<text x="342.4" y="552.0" font-size="18.3" font-weight="bold" textLength="298.5" lengthAdjust="spacingAndGlyphs"><tspan font-style="italic">tud</tspan> mut ovary transposon piRNAs</text>
<line x1="396.00" y1="566.20" x2="552.00" y2="566.20" stroke="#ececec" stroke-width="1" />
<text x="389.80" y="570.80" font-size="11.7" text-anchor="end" stroke="#000" stroke-width="0.22" >8000</text>
<line x1="396.00" y1="577.90" x2="552.00" y2="577.90" stroke="#ececec" stroke-width="1" />
<text x="389.80" y="582.50" font-size="11.7" text-anchor="end" stroke="#000" stroke-width="0.22" >4000</text>
<line x1="396.00" y1="589.60" x2="552.00" y2="589.60" stroke="#ececec" stroke-width="1" />
<text x="389.80" y="594.20" font-size="11.7" text-anchor="end" stroke="#000" stroke-width="0.22" >2000</text>
<text x="380.40" y="605.90" font-size="11.7" text-anchor="end" stroke="#000" stroke-width="0.22" >0</text>
<line x1="396.00" y1="613.18" x2="552.00" y2="613.18" stroke="#ececec" stroke-width="1" />
<text x="389.80" y="617.78" font-size="11.7" text-anchor="end" stroke="#000" stroke-width="0.22" >-2000</text>
<line x1="396.00" y1="625.06" x2="552.00" y2="625.06" stroke="#ececec" stroke-width="1" />
<text x="389.80" y="629.66" font-size="11.7" text-anchor="end" stroke="#000" stroke-width="0.22" >-4000</text>
<line x1="396.00" y1="636.94" x2="552.00" y2="636.94" stroke="#ececec" stroke-width="1" />
<text x="389.80" y="641.54" font-size="11.7" text-anchor="end" stroke="#000" stroke-width="0.22" >-6000</text>
<line x1="396.00" y1="648.82" x2="552.00" y2="648.82" stroke="#ececec" stroke-width="1" />
<text x="389.80" y="653.42" font-size="11.7" text-anchor="end" stroke="#000" stroke-width="0.22" >-8000</text>
<line x1="396.00" y1="660.70" x2="552.00" y2="660.70" stroke="#ececec" stroke-width="1" />
<text x="389.80" y="665.30" font-size="11.7" text-anchor="end" stroke="#000" stroke-width="0.22" >-10000</text>
<line x1="394.70" y1="675.20" x2="552.00" y2="675.20" stroke="#dedede" stroke-width="1" />
<line x1="394.70" y1="561.40" x2="394.70" y2="675.20" stroke="#7a7a7a" stroke-width="1.1" />
<rect x="430.70" y="592.70" width="16.85" height="8.60" fill="#1d265b" />
<rect x="430.70" y="601.30" width="16.85" height="14.04" fill="#b41e26" />
<rect x="447.55" y="584.16" width="16.85" height="17.14" fill="#1d265b" />
<rect x="447.55" y="601.30" width="16.85" height="33.70" fill="#b41e26" />
<rect x="464.40" y="578.78" width="16.85" height="22.52" fill="#1d265b" />
<rect x="464.40" y="601.30" width="16.85" height="45.22" fill="#b41e26" />
<rect x="481.25" y="579.95" width="16.85" height="21.35" fill="#1d265b" />
<rect x="481.25" y="601.30" width="16.85" height="44.64" fill="#b41e26" />
<rect x="498.10" y="585.80" width="16.85" height="15.50" fill="#1d265b" />
<rect x="498.10" y="601.30" width="16.85" height="34.22" fill="#b41e26" />
<rect x="514.95" y="592.35" width="16.85" height="8.95" fill="#1d265b" />
<rect x="514.95" y="601.30" width="16.85" height="20.18" fill="#b41e26" />
<rect x="531.80" y="598.20" width="16.85" height="3.10" fill="#1d265b" />
<rect x="531.80" y="601.30" width="16.85" height="8.31" fill="#b41e26" />
<line x1="430.70" y1="601.30" x2="430.70" y2="601.30" stroke="rgba(255,255,255,0.35)" stroke-width="0.6" />
<line x1="447.55" y1="592.70" x2="447.55" y2="615.34" stroke="rgba(255,255,255,0.35)" stroke-width="0.6" />
<line x1="464.40" y1="584.16" x2="464.40" y2="635.00" stroke="rgba(255,255,255,0.35)" stroke-width="0.6" />
<line x1="481.25" y1="579.95" x2="481.25" y2="645.94" stroke="rgba(255,255,255,0.35)" stroke-width="0.6" />
<line x1="498.10" y1="585.80" x2="498.10" y2="635.52" stroke="rgba(255,255,255,0.35)" stroke-width="0.6" />
<line x1="514.95" y1="592.35" x2="514.95" y2="621.48" stroke="rgba(255,255,255,0.35)" stroke-width="0.6" />
<line x1="531.80" y1="598.20" x2="531.80" y2="609.61" stroke="rgba(255,255,255,0.35)" stroke-width="0.6" />
<text x="405.43" y="608.70" font-size="10.0" text-anchor="middle" font-weight="bold" >21</text>
<text x="422.27" y="608.70" font-size="10.0" text-anchor="middle" font-weight="bold" >22</text>
<text x="439.12" y="608.70" font-size="10.0" text-anchor="middle" font-weight="bold" >23</text>
<text x="455.98" y="608.70" font-size="10.0" text-anchor="middle" font-weight="bold" >24</text>
<text x="472.82" y="608.70" font-size="10.0" text-anchor="middle" font-weight="bold" >25</text>
<text x="489.68" y="608.70" font-size="10.0" text-anchor="middle" font-weight="bold" >26</text>
<text x="506.52" y="608.70" font-size="10.0" text-anchor="middle" font-weight="bold" >27</text>
<text x="523.38" y="608.70" font-size="10.0" text-anchor="middle" font-weight="bold" >28</text>
<text x="540.23" y="608.70" font-size="10.0" text-anchor="middle" font-weight="bold" >29</text>
<rect x="413.90" y="601.00" width="16.85" height="1.00" fill="#c06060" />
<text transform="translate(351.8,618.8) rotate(-90)" x="0" y="0" font-size="14.6" text-anchor="middle" textLength="110.5" lengthAdjust="spacingAndGlyphs">Number of piRNAs</text>
<text x="5.00" y="695.70" font-size="23.2" font-weight="bold" >f</text>
<text x="48.20" y="696.90" font-size="16.3" font-weight="bold" textLength="105.10" lengthAdjust="spacingAndGlyphs" >Brain piRNAs</text>
<text x="236.00" y="697.70" font-size="16.3" font-weight="bold" textLength="110.50" lengthAdjust="spacingAndGlyphs" >Ovary piRNAs</text>
<path d="M98.00,758.30 L98.00,720.20 A38.1,38.1 0 1 1 75.03,727.90 Z" fill="url(#gB)" stroke="url(#gB)" stroke-width="0.5" stroke-linejoin="round"/>
<path d="M98.00,758.30 L75.03,727.90 A38.1,38.1 0 0 1 79.86,724.80 Z" fill="url(#gR)" stroke="url(#gR)" stroke-width="0.5" stroke-linejoin="round"/>
<path d="M98.00,758.30 L79.86,724.80 A38.1,38.1 0 0 1 98.00,720.20 Z" fill="url(#gG)" stroke="url(#gG)" stroke-width="0.5" stroke-linejoin="round"/>
<circle cx="98.0" cy="758.3" r="38.4" fill="none" stroke="rgba(120,110,100,0.25)" stroke-width="0.8"/>
<path d="M280.20,759.50 L280.20,721.10 A38.4,38.4 0 0 1 288.34,721.97 Z" fill="url(#gB)" stroke="url(#gB)" stroke-width="0.5" stroke-linejoin="round"/>
<path d="M280.20,759.50 L288.34,721.97 A38.4,38.4 0 0 1 301.58,791.39 Z" fill="url(#gR)" stroke="url(#gR)" stroke-width="0.5" stroke-linejoin="round"/>
<path d="M280.20,759.50 L301.58,791.39 A38.4,38.4 0 1 1 280.20,721.10 Z" fill="url(#gG)" stroke="url(#gG)" stroke-width="0.5" stroke-linejoin="round"/>
<circle cx="280.2" cy="759.5" r="38.699999999999996" fill="none" stroke="rgba(120,110,100,0.25)" stroke-width="0.8"/>
<text x="61.90" y="722.60" font-size="10.4" stroke="#000" stroke-width="0.22" >2%</text>
<text x="80.30" y="716.70" font-size="10.4" stroke="#000" stroke-width="0.22" >8%</text>
<text x="100.90" y="778.70" font-size="10.4" stroke="#000" stroke-width="0.22" >90%</text>
<text x="282.70" y="718.50" font-size="10.4" stroke="#000" stroke-width="0.22" >3%</text>
<text x="291.50" y="758.80" font-size="10.4" stroke="#000" stroke-width="0.22" >38%</text>
<text x="248.50" y="772.10" font-size="10.4" stroke="#000" stroke-width="0.22" >59%</text>
<rect x="169.30" y="732.60" width="5.60" height="5.50" fill="url(#gB)" />
<text x="177.80" y="739.30" font-size="10.4" stroke="#000" stroke-width="0.22" >Gene</text>
<rect x="169.30" y="749.00" width="5.60" height="5.50" fill="url(#gR)" />
<text x="177.80" y="755.60" font-size="10.4" stroke="#000" stroke-width="0.22" >LINE</text>
<rect x="169.30" y="765.30" width="5.60" height="5.50" fill="url(#gG)" />
<text x="177.80" y="771.70" font-size="10.4" stroke="#000" stroke-width="0.22" >LTR</text>
<text x="3.90" y="801.30" font-size="22" font-weight="bold" >g</text>
<text x="25.70" y="814.00" font-size="16.4" font-weight="bold" textLength="153.00" lengthAdjust="spacingAndGlyphs" >Brain genic piRNAs</text>
<text x="215.30" y="813.60" font-size="16.4" font-weight="bold" textLength="158.10" lengthAdjust="spacingAndGlyphs" >Ovary genic piRNAs</text>
<path d="M98.60,870.90 L98.60,832.60 A38.3,38.3 0 0 1 117.05,837.34 Z" fill="url(#gB)" stroke="url(#gB)" stroke-width="0.5" stroke-linejoin="round"/>
<path d="M98.60,870.90 L117.05,837.34 A38.3,38.3 0 1 1 62.17,882.74 Z" fill="url(#gR)" stroke="url(#gR)" stroke-width="0.5" stroke-linejoin="round"/>
<path d="M98.60,870.90 L62.17,882.74 A38.3,38.3 0 0 1 60.98,863.72 Z" fill="url(#gG)" stroke="url(#gG)" stroke-width="0.5" stroke-linejoin="round"/>
<path d="M98.60,870.90 L60.98,863.72 A38.3,38.3 0 0 1 98.60,832.60 Z" fill="url(#gP)" stroke="url(#gP)" stroke-width="0.5" stroke-linejoin="round"/>
<circle cx="98.6" cy="870.9" r="38.599999999999994" fill="none" stroke="rgba(120,110,100,0.25)" stroke-width="0.8"/>
<path d="M278.10,871.80 L278.10,833.40 A38.4,38.4 0 0 1 309.17,849.23 Z" fill="url(#gB)" stroke="url(#gB)" stroke-width="0.5" stroke-linejoin="round"/>
<path d="M278.10,871.80 L309.17,849.23 A38.4,38.4 0 0 1 316.20,876.61 Z" fill="url(#gR)" stroke="url(#gR)" stroke-width="0.5" stroke-linejoin="round"/>
<path d="M278.10,871.80 L316.20,876.61 A38.4,38.4 0 1 1 261.75,837.05 Z" fill="url(#gG)" stroke="url(#gG)" stroke-width="0.5" stroke-linejoin="round"/>
<path d="M278.10,871.80 L261.75,837.05 A38.4,38.4 0 0 1 278.10,833.40 Z" fill="url(#gP)" stroke="url(#gP)" stroke-width="0.5" stroke-linejoin="round"/>
<circle cx="278.1" cy="871.8" r="38.699999999999996" fill="none" stroke="rgba(120,110,100,0.25)" stroke-width="0.8"/>
<text x="102.00" y="829.40" font-size="10.4" stroke="#000" stroke-width="0.22" >8%</text>
<text x="72.40" y="855.70" font-size="10.4" stroke="#000" stroke-width="0.22" >22%</text>
<text x="45.30" y="876.70" font-size="10.4" stroke="#000" stroke-width="0.22" >8%</text>
<text x="106.60" y="889.90" font-size="10.4" stroke="#000" stroke-width="0.22" >62%</text>
<text x="262.40" y="829.70" font-size="10.4" stroke="#000" stroke-width="0.22" >7%</text>
<text x="280.40" y="851.60" font-size="10.4" stroke="#000" stroke-width="0.22" >15%</text>
<text x="293.80" y="870.40" font-size="10.4" stroke="#000" stroke-width="0.22" >12%</text>
<text x="251.30" y="891.20" font-size="10.4" stroke="#000" stroke-width="0.22" >66%</text>
<rect x="162.00" y="839.10" width="4.90" height="4.70" fill="url(#gB)" />
<text x="169.30" y="844.80" font-size="9.3" stroke="#000" stroke-width="0.22" >5' UTR</text>
<rect x="162.00" y="853.90" width="4.90" height="4.70" fill="url(#gR)" />
<text x="169.30" y="859.80" font-size="9.3" stroke="#000" stroke-width="0.22" >EXON</text>
<rect x="162.00" y="868.90" width="4.90" height="4.70" fill="url(#gG)" />
<text x="169.30" y="874.70" font-size="9.3" stroke="#000" stroke-width="0.22" >INTRON</text>
<rect x="162.00" y="883.70" width="4.90" height="4.70" fill="url(#gP)" />
<text x="169.30" y="889.60" font-size="9.3" stroke="#000" stroke-width="0.22" >3' UTR</text>
<text x="397.80" y="702.60" font-size="22" font-weight="bold" >h</text>
<text x="528.20" y="716.00" font-size="16.4" text-anchor="middle" font-weight="bold" textLength="175.90" lengthAdjust="spacingAndGlyphs" >DE piRNAs mapped to</text>
<text x="422.3" y="731.5" font-size="16.4" font-weight="bold" textLength="213.7" lengthAdjust="spacingAndGlyphs">DE genes in <tspan font-style="italic">tud</tspan> mut brains</text>
<rect x="385.3" y="737.6" width="282.2" height="173.2" fill="none" stroke="#dcdcdc" stroke-width="1"/>
<line x1="397.30" y1="813.30" x2="658.10" y2="813.30" stroke="#777" stroke-width="1.1" />
<line x1="527.70" y1="747.00" x2="527.70" y2="901.70" stroke="#666" stroke-width="1.1" />
<line x1="397.30" y1="813.30" x2="397.30" y2="816.50" stroke="#8a8a8a" stroke-width="1" />
<line x1="429.90" y1="813.30" x2="429.90" y2="816.50" stroke="#8a8a8a" stroke-width="1" />
<line x1="462.50" y1="813.30" x2="462.50" y2="816.50" stroke="#8a8a8a" stroke-width="1" />
<line x1="495.10" y1="813.30" x2="495.10" y2="816.50" stroke="#8a8a8a" stroke-width="1" />
<line x1="527.70" y1="813.30" x2="527.70" y2="816.50" stroke="#8a8a8a" stroke-width="1" />
<line x1="560.30" y1="813.30" x2="560.30" y2="816.50" stroke="#8a8a8a" stroke-width="1" />
<line x1="592.90" y1="813.30" x2="592.90" y2="816.50" stroke="#8a8a8a" stroke-width="1" />
<line x1="625.50" y1="813.30" x2="625.50" y2="816.50" stroke="#8a8a8a" stroke-width="1" />
<line x1="658.10" y1="813.30" x2="658.10" y2="816.50" stroke="#8a8a8a" stroke-width="1" />
<line x1="524.40" y1="747.00" x2="527.70" y2="747.00" stroke="#8a8a8a" stroke-width="1" />
<line x1="524.40" y1="769.10" x2="527.70" y2="769.10" stroke="#8a8a8a" stroke-width="1" />
<line x1="524.40" y1="791.20" x2="527.70" y2="791.20" stroke="#8a8a8a" stroke-width="1" />
<line x1="524.40" y1="813.30" x2="527.70" y2="813.30" stroke="#8a8a8a" stroke-width="1" />
<line x1="524.40" y1="835.40" x2="527.70" y2="835.40" stroke="#8a8a8a" stroke-width="1" />
<line x1="524.40" y1="857.50" x2="527.70" y2="857.50" stroke="#8a8a8a" stroke-width="1" />
<line x1="524.40" y1="879.60" x2="527.70" y2="879.60" stroke="#8a8a8a" stroke-width="1" />
<line x1="524.40" y1="901.70" x2="527.70" y2="901.70" stroke="#8a8a8a" stroke-width="1" />
<text x="397.30" y="832.20" font-size="12.8" text-anchor="middle" stroke="#000" stroke-width="0.22" >-2</text>
<text x="429.90" y="832.20" font-size="12.8" text-anchor="middle" stroke="#000" stroke-width="0.22" >-1.5</text>
<text x="462.50" y="832.20" font-size="12.8" text-anchor="middle" stroke="#000" stroke-width="0.22" >-1</text>
<text x="495.10" y="832.20" font-size="12.8" text-anchor="middle" stroke="#000" stroke-width="0.22" >-0.5</text>
<text x="527.70" y="832.20" font-size="12.8" text-anchor="middle" stroke="#000" stroke-width="0.22" >0</text>
<text x="560.30" y="832.20" font-size="12.8" text-anchor="middle" stroke="#000" stroke-width="0.22" >0.5</text>
<text x="592.90" y="832.20" font-size="12.8" text-anchor="middle" stroke="#000" stroke-width="0.22" >1</text>
<text x="625.50" y="832.20" font-size="12.8" text-anchor="middle" stroke="#000" stroke-width="0.22" >1.5</text>
<text x="658.10" y="832.20" font-size="12.8" text-anchor="middle" stroke="#000" stroke-width="0.22" >2</text>
<text x="518.60" y="751.60" font-size="12.8" text-anchor="end" stroke="#000" stroke-width="0.22" >6</text>
<text x="518.60" y="773.70" font-size="12.8" text-anchor="end" stroke="#000" stroke-width="0.22" >4</text>
<text x="518.60" y="795.80" font-size="12.8" text-anchor="end" stroke="#000" stroke-width="0.22" >2</text>
<text x="518.60" y="817.90" font-size="12.8" text-anchor="end" stroke="#000" stroke-width="0.22" >0</text>
<text x="518.60" y="840.00" font-size="12.8" text-anchor="end" stroke="#000" stroke-width="0.22" >-2</text>
<text x="518.60" y="862.10" font-size="12.8" text-anchor="end" stroke="#000" stroke-width="0.22" >-4</text>
<text x="518.60" y="884.20" font-size="12.8" text-anchor="end" stroke="#000" stroke-width="0.22" >-6</text>
<text x="518.60" y="906.30" font-size="12.8" text-anchor="end" stroke="#000" stroke-width="0.22" >-8</text>
<text transform="translate(506.8,776.1) rotate(-90)" x="0" y="0" font-size="12" text-anchor="middle" textLength="66.6" lengthAdjust="spacingAndGlyphs">piRNA log<tspan font-size="8.2" dy="2.5">2</tspan><tspan dy="-2.5">FC</tspan></text>
<text x="595.5" y="807.5" font-size="12.3" textLength="62.8" lengthAdjust="spacingAndGlyphs">Gene log<tspan font-size="8.2" dy="2.5">2</tspan><tspan dy="-2.5">FC</tspan></text>
<rect x="389.6" y="741.4" width="88.4" height="43.8" fill="#fff" stroke="#333" stroke-width="1.3"/>
<circle cx="398.7" cy="755.2" r="5.1" fill="#4a86e8"/>
<circle cx="398.7" cy="772.5" r="5.1" fill="#ff2a00"/>
<text x="407.60" y="759.90" font-size="13.2" textLength="39.00" lengthAdjust="spacingAndGlyphs" stroke="#000" stroke-width="0.22" >Sense</text>
<text x="406.20" y="776.70" font-size="13.2" textLength="61.40" lengthAdjust="spacingAndGlyphs" stroke="#000" stroke-width="0.22" >Antisense</text>
<circle cx="566.2" cy="770.4" r="1.45" fill="#3f73cf"/>
<circle cx="566.2" cy="777.1" r="1.45" fill="#3f73cf"/>
<circle cx="566.2" cy="779.1" r="1.45" fill="#3f73cf"/>
<circle cx="566.2" cy="781.5" r="1.45" fill="#3f73cf"/>
<circle cx="569.4" cy="775" r="1.45" fill="#3f73cf"/>
<circle cx="582.6" cy="770.2" r="1.45" fill="#3f73cf"/>
<circle cx="591.5" cy="777.1" r="1.45" fill="#3f73cf"/>
<circle cx="641.6" cy="770.2" r="1.45" fill="#3f73cf"/>
<circle cx="641.6" cy="777.1" r="1.45" fill="#3f73cf"/>
<circle cx="641.6" cy="779.1" r="1.45" fill="#3f73cf"/>
<circle cx="641.6" cy="781.5" r="1.45" fill="#3f73cf"/>
<circle cx="409.2" cy="868.1" r="1.45" fill="#3f73cf"/>
<circle cx="418.8" cy="867.6" r="1.45" fill="#3f73cf"/>
<circle cx="418.8" cy="868.7" r="1.45" fill="#3f73cf"/>
<circle cx="427" cy="851.8" r="1.45" fill="#3f73cf"/>
<circle cx="426.7" cy="865.8" r="1.45" fill="#3f73cf"/>
<circle cx="428.9" cy="866.7" r="1.45" fill="#3f73cf"/>
<circle cx="431.1" cy="865.8" r="1.45" fill="#3f73cf"/>
<circle cx="427" cy="871.6" r="1.45" fill="#3f73cf"/>
<circle cx="436.3" cy="852.3" r="1.45" fill="#3f73cf"/>
<circle cx="436.3" cy="869.2" r="1.45" fill="#3f73cf"/>
<circle cx="436.3" cy="870.2" r="1.45" fill="#3f73cf"/>
<circle cx="440.3" cy="862" r="1.45" fill="#3f73cf"/>
<circle cx="440.7" cy="866.1" r="1.45" fill="#3f73cf"/>
<circle cx="440.7" cy="868.7" r="1.45" fill="#3f73cf"/>
<circle cx="442.7" cy="850.9" r="1.45" fill="#3f73cf"/>
<circle cx="444.7" cy="853.2" r="1.45" fill="#3f73cf"/>
<circle cx="443.6" cy="858.8" r="1.45" fill="#3f73cf"/>
<circle cx="445.1" cy="867" r="1.45" fill="#3f73cf"/>
<circle cx="444.7" cy="870.9" r="1.45" fill="#3f73cf"/>
<circle cx="448.6" cy="843.8" r="1.45" fill="#3f73cf"/>
<circle cx="453.6" cy="844.9" r="1.45" fill="#3f73cf"/>
<circle cx="453.6" cy="851.5" r="1.45" fill="#3f73cf"/>
<circle cx="449.9" cy="873.1" r="1.45" fill="#3f73cf"/>
<circle cx="453.6" cy="875.5" r="1.45" fill="#3f73cf"/>
<circle cx="451.5" cy="886.4" r="1.45" fill="#3f73cf"/>
<circle cx="453.6" cy="866.5" r="1.45" fill="#3f73cf"/>
<circle cx="453.6" cy="868.3" r="1.45" fill="#3f73cf"/>
<circle cx="453.6" cy="869.9" r="1.45" fill="#3f73cf"/>
<circle cx="456.9" cy="866.1" r="1.45" fill="#3f73cf"/>
<circle cx="459.1" cy="867.2" r="1.45" fill="#3f73cf"/>
<circle cx="458.9" cy="867" r="1.45" fill="#3f73cf"/>
<circle cx="463.3" cy="869.2" r="1.45" fill="#3f73cf"/>
<circle cx="466" cy="871.3" r="1.45" fill="#3f73cf"/>
<circle cx="466.4" cy="851.5" r="1.45" fill="#3f73cf"/>
<circle cx="466" cy="866.1" r="1.45" fill="#3f73cf"/>
<circle cx="468.1" cy="866.1" r="1.45" fill="#3f73cf"/>
<circle cx="467.7" cy="868.3" r="1.45" fill="#3f73cf"/>
<circle cx="469.5" cy="843.8" r="1.45" fill="#3f73cf"/>
<circle cx="469.7" cy="873.1" r="1.45" fill="#3f73cf"/>
<circle cx="473.4" cy="844.9" r="1.45" fill="#3f73cf"/>
<circle cx="473.4" cy="851.5" r="1.45" fill="#3f73cf"/>
<circle cx="476.7" cy="856.9" r="1.45" fill="#3f73cf"/>
<circle cx="473.4" cy="866.1" r="1.45" fill="#3f73cf"/>
<circle cx="473.4" cy="867.8" r="1.45" fill="#3f73cf"/>
<circle cx="473.4" cy="869.6" r="1.45" fill="#3f73cf"/>
<circle cx="473.4" cy="872.2" r="1.45" fill="#3f73cf"/>
<circle cx="473.4" cy="875.5" r="1.45" fill="#3f73cf"/>
<circle cx="477.1" cy="867.6" r="1.45" fill="#3f73cf"/>
<circle cx="475.1" cy="879.8" r="1.45" fill="#3f73cf"/>
<circle cx="481.3" cy="876" r="1.45" fill="#3f73cf"/>
<circle cx="483.9" cy="858.8" r="1.45" fill="#3f73cf"/>
<circle cx="486.1" cy="858.8" r="1.45" fill="#3f73cf"/>
<circle cx="491.3" cy="875.5" r="1.45" fill="#3f73cf"/>
<circle cx="565.5" cy="867.4" r="1.45" fill="#3f73cf"/>
<circle cx="567" cy="868.5" r="1.45" fill="#3f73cf"/>
<circle cx="568.6" cy="869.2" r="1.45" fill="#3f73cf"/>
<circle cx="569" cy="874.4" r="1.45" fill="#3f73cf"/>
<circle cx="572.1" cy="872.7" r="1.45" fill="#3f73cf"/>
<circle cx="574.2" cy="844.9" r="1.45" fill="#3f73cf"/>
<circle cx="574.2" cy="851.5" r="1.45" fill="#3f73cf"/>
<circle cx="574.6" cy="855.1" r="1.45" fill="#3f73cf"/>
<circle cx="578" cy="855.1" r="1.45" fill="#3f73cf"/>
<circle cx="586" cy="844.9" r="1.45" fill="#3f73cf"/>
<circle cx="586" cy="851.5" r="1.45" fill="#3f73cf"/>
<circle cx="583.2" cy="857.6" r="1.45" fill="#3f73cf"/>
<circle cx="593.9" cy="844.9" r="1.45" fill="#3f73cf"/>
<circle cx="593.9" cy="851.5" r="1.45" fill="#3f73cf"/>
<circle cx="601.3" cy="844.9" r="1.45" fill="#3f73cf"/>
<circle cx="601.3" cy="851.5" r="1.45" fill="#3f73cf"/>
<circle cx="608.4" cy="844.9" r="1.45" fill="#3f73cf"/>
<circle cx="608.4" cy="851.5" r="1.45" fill="#3f73cf"/>
<circle cx="621.6" cy="844.9" r="1.45" fill="#3f73cf"/>
<circle cx="621.6" cy="851.5" r="1.45" fill="#3f73cf"/>
<circle cx="596.5" cy="858.8" r="1.45" fill="#3f73cf"/>
<circle cx="598.3" cy="858.8" r="1.45" fill="#3f73cf"/>
<circle cx="574.2" cy="867" r="1.45" fill="#3f73cf"/>
<circle cx="583" cy="867" r="1.45" fill="#3f73cf"/>
<circle cx="586" cy="868.5" r="1.45" fill="#3f73cf"/>
<circle cx="593.9" cy="866.5" r="1.45" fill="#3f73cf"/>
<circle cx="595.2" cy="868.5" r="1.45" fill="#3f73cf"/>
<circle cx="593.9" cy="870" r="1.45" fill="#3f73cf"/>
<circle cx="600.5" cy="867" r="1.45" fill="#3f73cf"/>
<circle cx="602" cy="868.5" r="1.45" fill="#3f73cf"/>
<circle cx="602.6" cy="870.5" r="1.45" fill="#3f73cf"/>
<circle cx="604" cy="872" r="1.45" fill="#3f73cf"/>
<circle cx="605.5" cy="868.5" r="1.45" fill="#3f73cf"/>
<circle cx="607.5" cy="868.5" r="1.45" fill="#3f73cf"/>
<circle cx="608.4" cy="868.5" r="1.45" fill="#3f73cf"/>
<circle cx="621.6" cy="866.1" r="1.45" fill="#3f73cf"/>
<circle cx="621.6" cy="868" r="1.45" fill="#3f73cf"/>
<circle cx="621.6" cy="869.9" r="1.45" fill="#3f73cf"/>
<circle cx="572" cy="873" r="1.45" fill="#3f73cf"/>
<circle cx="578.1" cy="873" r="1.45" fill="#3f73cf"/>
<circle cx="583" cy="872.5" r="1.45" fill="#3f73cf"/>
<circle cx="571" cy="873.5" r="1.45" fill="#3f73cf"/>
<circle cx="586" cy="875.5" r="1.45" fill="#3f73cf"/>
<circle cx="590.8" cy="876.8" r="1.45" fill="#3f73cf"/>
<circle cx="593.9" cy="875.5" r="1.45" fill="#3f73cf"/>
<circle cx="600.9" cy="875.5" r="1.45" fill="#3f73cf"/>
<circle cx="602" cy="876.5" r="1.45" fill="#3f73cf"/>
<circle cx="608.4" cy="875.5" r="1.45" fill="#3f73cf"/>
<circle cx="621.6" cy="875.5" r="1.45" fill="#3f73cf"/>
<circle cx="641.4" cy="869.3" r="1.45" fill="#3f73cf"/>
<circle cx="608" cy="869.5" r="1.45" fill="#3f73cf"/>
<circle cx="609.6" cy="868.4" r="1.45" fill="#3f73cf"/>
<circle cx="488.6" cy="770.2" r="1.45" fill="#ff1a00"/>
<circle cx="488.6" cy="777.9" r="1.45" fill="#ff1a00"/>
<circle cx="629.1" cy="770.2" r="1.45" fill="#ff1a00"/>
<circle cx="629.1" cy="776.4" r="1.45" fill="#ff1a00"/>
<circle cx="629.1" cy="778.4" r="1.45" fill="#ff1a00"/>
<circle cx="629.1" cy="780.3" r="1.45" fill="#ff1a00"/>
<circle cx="629.1" cy="782" r="1.45" fill="#ff1a00"/>
<circle cx="443.6" cy="844.9" r="1.45" fill="#ff1a00"/>
<circle cx="443.6" cy="851.5" r="1.45" fill="#ff1a00"/>
<circle cx="453.6" cy="858.8" r="1.45" fill="#ff1a00"/>
<circle cx="443.6" cy="866.5" r="1.45" fill="#ff1a00"/>
<circle cx="443.6" cy="868.1" r="1.45" fill="#ff1a00"/>
<circle cx="443.6" cy="869.6" r="1.45" fill="#ff1a00"/>
<circle cx="443.6" cy="875.5" r="1.45" fill="#ff1a00"/>
<circle cx="483.5" cy="844.9" r="1.45" fill="#ff1a00"/>
<circle cx="486.1" cy="844.9" r="1.45" fill="#ff1a00"/>
<circle cx="483.5" cy="851.5" r="1.45" fill="#ff1a00"/>
<circle cx="486.1" cy="851.5" r="1.45" fill="#ff1a00"/>
<circle cx="470.3" cy="858.8" r="1.45" fill="#ff1a00"/>
<circle cx="473.8" cy="858.8" r="1.45" fill="#ff1a00"/>
<circle cx="483.9" cy="866.1" r="1.45" fill="#ff1a00"/>
<circle cx="486.3" cy="866.1" r="1.45" fill="#ff1a00"/>
<circle cx="483.9" cy="867.6" r="1.45" fill="#ff1a00"/>
<circle cx="486.3" cy="867.6" r="1.45" fill="#ff1a00"/>
<circle cx="483.9" cy="869.1" r="1.45" fill="#ff1a00"/>
<circle cx="486.3" cy="869.1" r="1.45" fill="#ff1a00"/>
<circle cx="483.9" cy="870.3" r="1.45" fill="#ff1a00"/>
<circle cx="486.3" cy="870.3" r="1.45" fill="#ff1a00"/>
<circle cx="483.5" cy="875.5" r="1.45" fill="#ff1a00"/>
<circle cx="486.1" cy="875.5" r="1.45" fill="#ff1a00"/>
<circle cx="572" cy="844.9" r="1.45" fill="#ff1a00"/>
<circle cx="576.4" cy="844.9" r="1.45" fill="#ff1a00"/>
<circle cx="578.1" cy="844.9" r="1.45" fill="#ff1a00"/>
<circle cx="588.2" cy="844.9" r="1.45" fill="#ff1a00"/>
<circle cx="589.5" cy="844.9" r="1.45" fill="#ff1a00"/>
<circle cx="596.5" cy="844.9" r="1.45" fill="#ff1a00"/>
<circle cx="572" cy="851.5" r="1.45" fill="#ff1a00"/>
<circle cx="576.4" cy="851.5" r="1.45" fill="#ff1a00"/>
<circle cx="578.1" cy="851.5" r="1.45" fill="#ff1a00"/>
<circle cx="588.6" cy="851.5" r="1.45" fill="#ff1a00"/>
<circle cx="596.5" cy="851.5" r="1.45" fill="#ff1a00"/>
<circle cx="610.1" cy="849" r="1.45" fill="#ff1a00"/>
<circle cx="572" cy="858.8" r="1.45" fill="#ff1a00"/>
<circle cx="574.2" cy="858.8" r="1.45" fill="#ff1a00"/>
<circle cx="576.4" cy="858.8" r="1.45" fill="#ff1a00"/>
<circle cx="578.1" cy="858.8" r="1.45" fill="#ff1a00"/>
<circle cx="586" cy="858.8" r="1.45" fill="#ff1a00"/>
<circle cx="589.5" cy="858.8" r="1.45" fill="#ff1a00"/>
<circle cx="593.9" cy="858.8" r="1.45" fill="#ff1a00"/>
<circle cx="601.3" cy="858.8" r="1.45" fill="#ff1a00"/>
<circle cx="621.8" cy="858.8" r="1.45" fill="#ff1a00"/>
<circle cx="572" cy="866.3" r="1.45" fill="#ff1a00"/>
<circle cx="574.2" cy="866.3" r="1.45" fill="#ff1a00"/>
<circle cx="576.4" cy="866.3" r="1.45" fill="#ff1a00"/>
<circle cx="578.1" cy="866.3" r="1.45" fill="#ff1a00"/>
<circle cx="572" cy="868.2" r="1.45" fill="#ff1a00"/>
<circle cx="574.2" cy="868.2" r="1.45" fill="#ff1a00"/>
<circle cx="576.4" cy="868.2" r="1.45" fill="#ff1a00"/>
<circle cx="578.1" cy="868.2" r="1.45" fill="#ff1a00"/>
<circle cx="572" cy="870" r="1.45" fill="#ff1a00"/>
<circle cx="576.4" cy="870" r="1.45" fill="#ff1a00"/>
<circle cx="578.1" cy="870" r="1.45" fill="#ff1a00"/>
<circle cx="582.1" cy="868.3" r="1.45" fill="#ff1a00"/>
<circle cx="588.2" cy="867" r="1.45" fill="#ff1a00"/>
<circle cx="588.2" cy="868.8" r="1.45" fill="#ff1a00"/>
<circle cx="588.2" cy="870.3" r="1.45" fill="#ff1a00"/>
<circle cx="596.5" cy="866.3" r="1.45" fill="#ff1a00"/>
<circle cx="597.5" cy="868" r="1.45" fill="#ff1a00"/>
<circle cx="596.5" cy="870" r="1.45" fill="#ff1a00"/>
<circle cx="599" cy="868.5" r="1.45" fill="#ff1a00"/>
<circle cx="610.1" cy="866" r="1.45" fill="#ff1a00"/>
<circle cx="610.1" cy="869.6" r="1.45" fill="#ff1a00"/>
<circle cx="610.1" cy="871.8" r="1.45" fill="#ff1a00"/>
<circle cx="613" cy="868.5" r="1.45" fill="#ff1a00"/>
<circle cx="582.5" cy="873.2" r="1.45" fill="#ff1a00"/>
<circle cx="572" cy="875.5" r="1.45" fill="#ff1a00"/>
<circle cx="574.2" cy="875.5" r="1.45" fill="#ff1a00"/>
<circle cx="576.4" cy="875.5" r="1.45" fill="#ff1a00"/>
<circle cx="578.1" cy="875.5" r="1.45" fill="#ff1a00"/>
<circle cx="588.6" cy="875.5" r="1.45" fill="#ff1a00"/>
<circle cx="596.5" cy="875.5" r="1.45" fill="#ff1a00"/>
<circle cx="607" cy="874.4" r="1.45" fill="#ff1a00"/>
<circle cx="610.1" cy="876.8" r="1.45" fill="#ff1a00"/>
<circle cx="610.1" cy="882.3" r="1.45" fill="#ff1a00"/>
</svg>
</body></html>
